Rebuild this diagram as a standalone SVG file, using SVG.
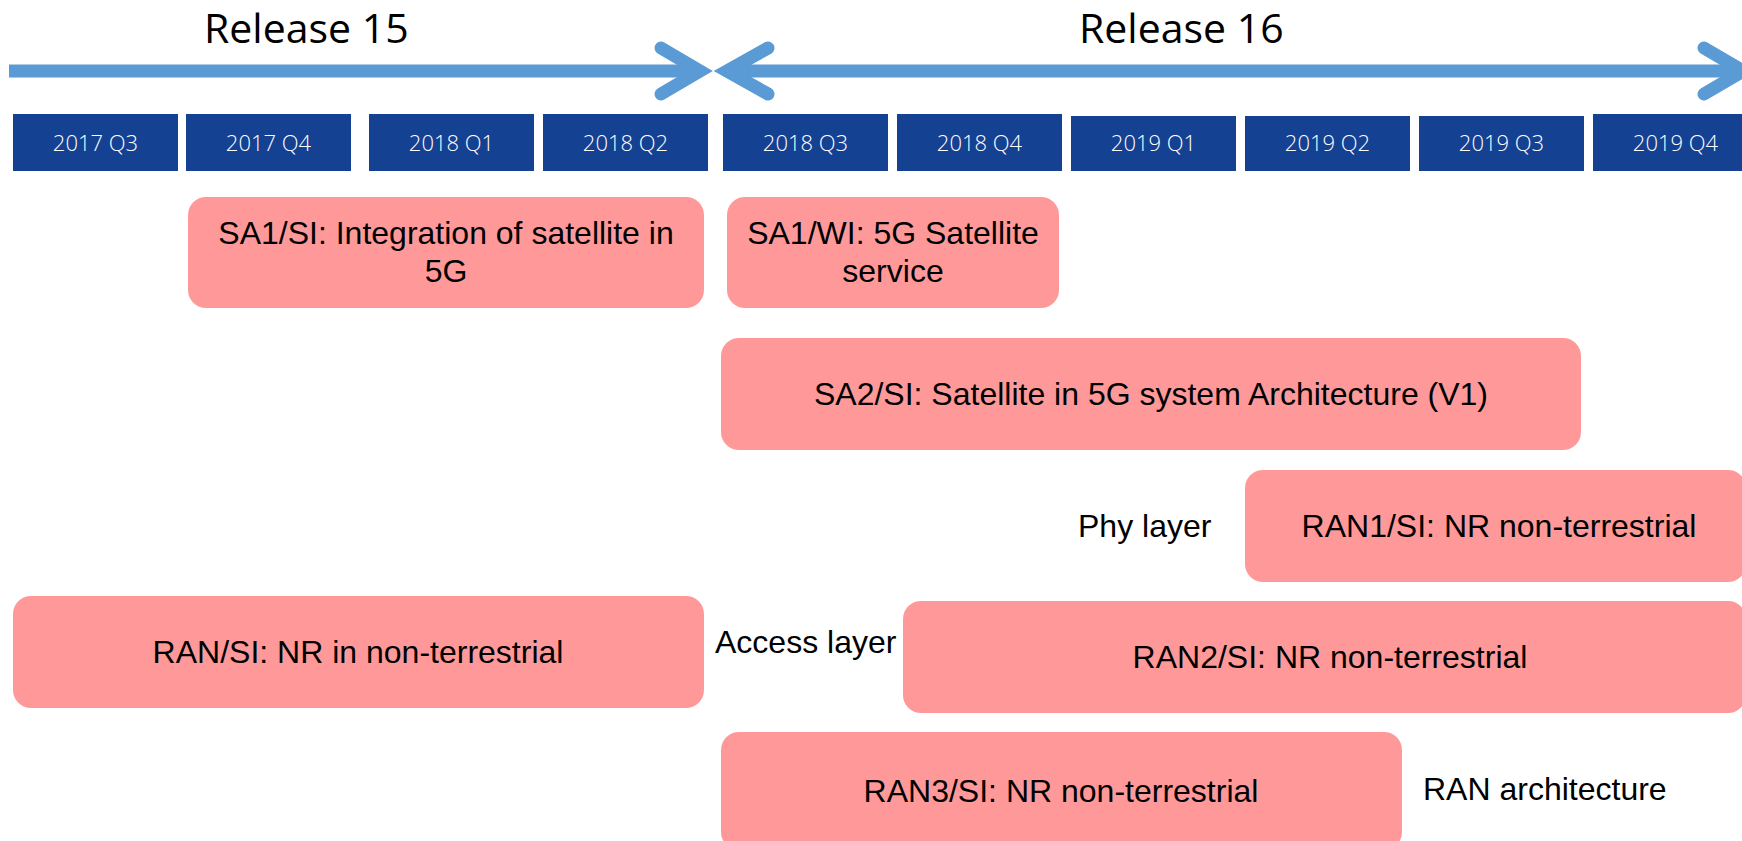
<svg xmlns="http://www.w3.org/2000/svg" width="1742" height="841" viewBox="0 0 1742 841">
<style>
.q{fill:#144192}
.qt{font-family:"Open Sans","Noto Sans",sans-serif;font-weight:300;font-size:22px;fill:#ffffff;text-anchor:middle}
.rel{font-family:"Open Sans","Noto Sans",sans-serif;font-size:41px;fill:#000000}
.p{fill:#FF9999}
.t{font-family:"Liberation Sans",Arial,sans-serif;font-size:32px;fill:#000000;text-anchor:middle}
.lbl{font-family:"Liberation Sans",Arial,sans-serif;font-size:32px;fill:#000000}
.ar{fill:none;stroke:#5B9BD5;stroke-width:13}
.hd{fill:none;stroke:#5B9BD5;stroke-width:13;stroke-linecap:round;stroke-linejoin:miter;stroke-miterlimit:10}
</style>
<rect width="1742" height="841" fill="#ffffff"/>
<g id="connectors">
<line class="ar" x1="9" y1="71" x2="698" y2="71"/>
<polyline class="hd" points="661,48 700,71 661,94"/>
<line class="ar" x1="728" y1="71" x2="1736" y2="71"/>
<polyline class="hd" points="768,48 727,71 768,94"/>
<polyline class="hd" points="1704,48 1743,71 1704,94"/>
</g>
<g id="release15"><text class="rel" x="204" y="43">Release 15</text></g>
<g id="release16"><text class="rel" x="1079" y="43">Release 16</text></g>
<g id="q-2017Q3"><rect class="q" x="13" y="114" width="165" height="57"/><text class="qt" x="95.5" y="151">2017 Q3</text></g>
<g id="q-2017Q4"><rect class="q" x="186" y="114" width="165" height="57"/><text class="qt" x="268.5" y="151">2017 Q4</text></g>
<g id="q-2018Q1"><rect class="q" x="369" y="114" width="165" height="57"/><text class="qt" x="451.5" y="151">2018 Q1</text></g>
<g id="q-2018Q2"><rect class="q" x="543" y="114" width="165" height="57"/><text class="qt" x="625.5" y="151">2018 Q2</text></g>
<g id="q-2018Q3"><rect class="q" x="723" y="114" width="165" height="57"/><text class="qt" x="805.5" y="151">2018 Q3</text></g>
<g id="q-2018Q4"><rect class="q" x="897" y="114" width="165" height="57"/><text class="qt" x="979.5" y="151">2018 Q4</text></g>
<g id="q-2019Q1"><rect class="q" x="1071" y="116" width="165" height="55"/><text class="qt" x="1153.5" y="151">2019 Q1</text></g>
<g id="q-2019Q2"><rect class="q" x="1245" y="116" width="165" height="55"/><text class="qt" x="1327.5" y="151">2019 Q2</text></g>
<g id="q-2019Q3"><rect class="q" x="1419" y="116" width="165" height="55"/><text class="qt" x="1501.5" y="151">2019 Q3</text></g>
<g id="q-2019Q4"><rect class="q" x="1593" y="114" width="165" height="57"/><text class="qt" x="1675.5" y="151">2019 Q4</text></g>
<g id="sa1-si"><rect class="p" x="188" y="197" width="516" height="111" rx="18"/><text class="t" x="446" y="244">SA1/SI: Integration of satellite in</text><text class="t" x="446" y="282">5G</text></g>
<g id="sa1-wi"><rect class="p" x="727" y="197" width="332" height="111" rx="18"/><text class="t" x="893" y="244">SA1/WI: 5G Satellite</text><text class="t" x="893" y="282">service</text></g>
<g id="sa2-si"><rect class="p" x="721" y="338" width="860" height="112" rx="18"/><text class="t" x="1151" y="405">SA2/SI: Satellite in 5G system Architecture (V1)</text></g>
<g id="ran1-si"><rect class="p" x="1245" y="470" width="501" height="112" rx="18"/><text class="t" x="1499" y="537">RAN1/SI: NR non-terrestrial</text></g>
<g id="ran-si"><rect class="p" x="13" y="596" width="691" height="112" rx="18"/><text class="t" x="358" y="663">RAN/SI: NR in non-terrestrial</text></g>
<g id="ran2-si"><rect class="p" x="903" y="601" width="843" height="112" rx="18"/><text class="t" x="1330" y="668">RAN2/SI: NR non-terrestrial</text></g>
<g id="ran3-si"><rect class="p" x="721" y="732" width="681" height="118" rx="18"/><text class="t" x="1061" y="802">RAN3/SI: NR non-terrestrial</text></g>
<g id="label-phy"><text class="lbl" x="1078" y="537">Phy layer</text></g>
<g id="label-access"><text class="lbl" x="715" y="653">Access layer</text></g>
<g id="label-ran"><text class="lbl" x="1423" y="800">RAN architecture</text></g>
</svg>
